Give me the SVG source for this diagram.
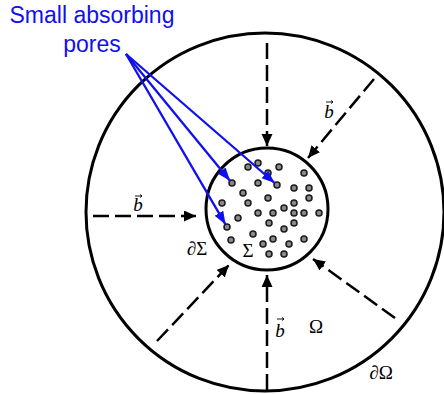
<svg xmlns="http://www.w3.org/2000/svg" width="444" height="394" viewBox="0 0 444 394">
<style>
.ring{fill:none;stroke:#000;stroke-width:3}
.dash{fill:none;stroke:#000;stroke-width:2.5;stroke-dasharray:16 6}
.ptr{fill:none;stroke:#1010ee;stroke-width:2.3}
.pore{fill:#8a8a8a;stroke:#1a1a1a;stroke-width:1.5}
.lbl{font-family:"Liberation Serif","Times New Roman",serif;font-size:19px;fill:#000}
.it{font-style:italic}
.blue{font-family:"Liberation Sans",Arial,sans-serif;font-size:23px;fill:#1010ee}
.acc{fill:none;stroke:#000;stroke-width:0.9}
</style>
<defs>
<marker id="ah" markerUnits="userSpaceOnUse" markerWidth="13" markerHeight="12" refX="12" refY="5.5" orient="auto"><path d="M0,0 L12,5.5 L0,11 z" fill="#000"/></marker>
<marker id="bh" markerUnits="userSpaceOnUse" markerWidth="14" markerHeight="11" refX="13" refY="5" orient="auto"><path d="M0,0 L13,5 L0,10 z" fill="#1010ee"/></marker>
</defs>
<g id="domain">
<circle class="ring" cx="265" cy="212" r="179"/>
</g>
<g id="sigma">
<circle class="ring" cx="267" cy="209" r="61"/>
<g id="pores">
<circle class="pore" cx="258" cy="163" r="3"/><circle class="pore" cx="248" cy="167" r="3"/><circle class="pore" cx="279" cy="167" r="3"/><circle class="pore" cx="268" cy="173" r="3"/><circle class="pore" cx="304" cy="173" r="3"/>
<circle class="pore" cx="232" cy="183" r="3"/><circle class="pore" cx="258" cy="183" r="3"/><circle class="pore" cx="277" cy="185" r="3"/><circle class="pore" cx="294" cy="188" r="3"/><circle class="pore" cx="309" cy="188" r="3"/>
<circle class="pore" cx="243" cy="193" r="3"/><circle class="pore" cx="268" cy="198" r="3"/><circle class="pore" cx="309" cy="198" r="3"/>
<circle class="pore" cx="222" cy="203" r="3"/><circle class="pore" cx="248" cy="203" r="3"/><circle class="pore" cx="294" cy="203" r="3"/>
<circle class="pore" cx="284" cy="208" r="3"/>
<circle class="pore" cx="258" cy="213" r="3"/><circle class="pore" cx="273" cy="213" r="3"/><circle class="pore" cx="294" cy="213" r="3"/><circle class="pore" cx="304" cy="213" r="3"/><circle class="pore" cx="319" cy="213" r="3"/>
<circle class="pore" cx="238" cy="218" r="3"/>
<circle class="pore" cx="269" cy="223" r="3"/><circle class="pore" cx="294" cy="223" r="3"/>
<circle class="pore" cx="227" cy="227" r="3"/><circle class="pore" cx="284" cy="229" r="3"/>
<circle class="pore" cx="253" cy="234" r="3"/>
<circle class="pore" cx="273" cy="239" r="3"/><circle class="pore" cx="304" cy="239" r="3"/><circle class="pore" cx="231" cy="240" r="3"/>
<circle class="pore" cx="263" cy="244" r="3"/><circle class="pore" cx="289" cy="244" r="3"/>
<circle class="pore" cx="269" cy="254" r="3"/><circle class="pore" cx="284" cy="254" r="3"/>
</g>
</g>
<g id="connectors">
<line class="dash" x1="267" y1="43" x2="267" y2="146" marker-end="url(#ah)"/>
<line class="dash" x1="267" y1="390" x2="267" y2="275" marker-end="url(#ah)"/>
<line class="dash" x1="93" y1="216" x2="196" y2="216" marker-end="url(#ah)"/>
<line class="dash" x1="374" y1="79" x2="308" y2="158" marker-end="url(#ah)"/>
<line class="dash" x1="395" y1="318" x2="313" y2="259" marker-end="url(#ah)"/>
<line class="dash" x1="157" y1="341" x2="229" y2="265" marker-end="url(#ah)"/>
<line class="ptr" x1="126" y1="54" x2="230" y2="180.7" marker-end="url(#bh)"/>
<line class="ptr" x1="126" y1="54" x2="274.7" y2="183" marker-end="url(#bh)"/>
<line class="ptr" x1="126" y1="54" x2="225.5" y2="224.4" marker-end="url(#bh)"/>
</g>
<g id="labels">
<text class="blue" x="92" y="23" text-anchor="middle">Small absorbing</text>
<text class="blue" x="92" y="52" text-anchor="middle">pores</text>
<g id="b-left"><text class="lbl it" x="138" y="211" text-anchor="middle">b</text><path class="acc" d="M135,196 H142 M140,194.5 L142,196 L140,197.5"/></g>
<g id="b-ur"><text class="lbl it" x="329" y="118" text-anchor="middle">b</text><path class="acc" d="M326,102 H333 M331,100.5 L333,102 L331,103.5"/></g>
<g id="b-bot"><text class="lbl it" x="280" y="337" text-anchor="middle">b</text><path class="acc" d="M277,319 H284 M282,317.5 L284,319 L282,320.5"/></g>
<text class="lbl" x="316" y="333" text-anchor="middle">Ω</text>
<text class="lbl" x="381" y="379" text-anchor="middle"><tspan class="it">∂</tspan>Ω</text>
<text class="lbl" x="197" y="255" text-anchor="middle"><tspan class="it">∂</tspan>Σ</text>
<text class="lbl" x="248" y="257" text-anchor="middle">Σ</text>
</g>
</svg>
